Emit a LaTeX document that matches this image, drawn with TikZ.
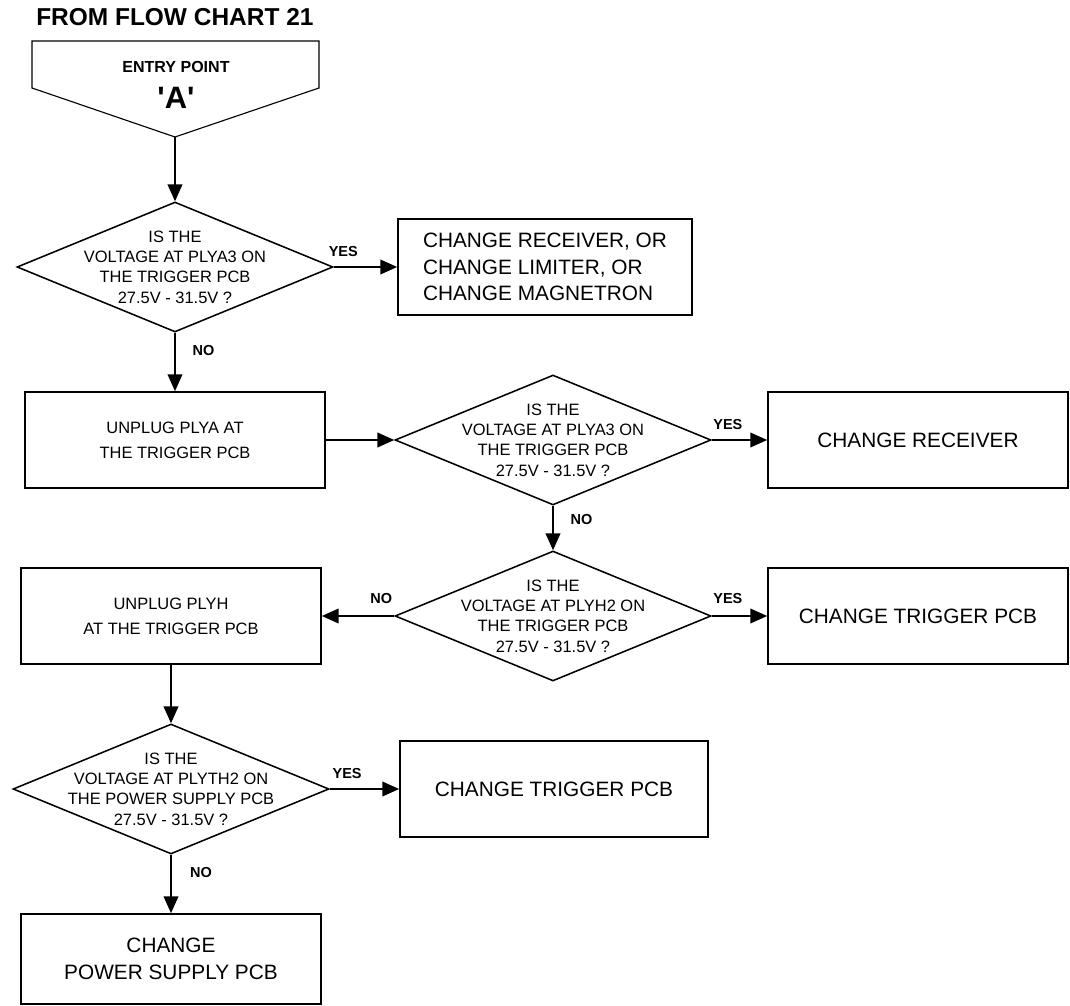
\documentclass[tikz,border=0pt]{standalone}
\usepackage{fontspec}
\setmainfont{Liberation Sans}
\usetikzlibrary{shapes.geometric, arrows.meta, positioning}

\begin{document}
\begin{tikzpicture}[
    box/.style={rectangle, draw, line width=1.2pt, minimum width=7.5cm, minimum height=2.4cm, align=center, font=\fontsize{14.8}{18.9}\selectfont},
    smallbox/.style={box, font=\fontsize{11.7}{17.8}\selectfont},
    decision/.style={diamond, draw, line width=1.1pt, inner sep=0pt, minimum width=7.9cm, minimum height=3.25cm},
    qtext/.style={align=center, font=\fontsize{11.7}{14.4}\selectfont},
    yn/.style={font=\bfseries\fontsize{10.3}{12}\selectfont, inner sep=0pt},
    arr/.style={-{Triangle[length=12pt, width=10.5pt]}, line width=1.1pt}
]
\useasboundingbox (0,0) rectangle (26.75,-25.15);

% Entry
\node[font=\bfseries\fontsize{17.4}{20}\selectfont, anchor=west, inner sep=0pt] (title) at (0.9,-0.425) {FROM FLOW CHART 21};
\draw[line width=0.8pt] (0.8,-1.025) -- (7.975,-1.025) -- (7.975,-2.2) -- (4.375,-3.425) -- (0.8,-2.2) -- cycle;
\coordinate (entry) at (4.375,-3.425);
\node[font=\bfseries\fontsize{11.4}{13}\selectfont] (entrytxt) at (4.4,-1.675) {ENTRY POINT};
\node[font=\bfseries\fontsize{22}{24}\selectfont] (entryA) at (4.4,-2.45) {\textquotesingle A\textquotesingle};

% Checks
\node[decision, label={[qtext]center:{IS THE\\VOLTAGE AT PLYA3 ON\\THE TRIGGER PCB\\27.5V - 31.5V ?}}] (q1) at (4.375,-6.675) {};
\node[box, align=left, minimum width=7.35cm] (b1) at (13.625,-6.675) {CHANGE RECEIVER, OR\\CHANGE LIMITER, OR\\CHANGE MAGNETRON};
\node[smallbox] (b2) at (4.375,-11.0) {UNPLUG PLYA AT\\THE TRIGGER PCB};
\node[decision, label={[qtext]center:{IS THE\\VOLTAGE AT PLYA3 ON\\THE TRIGGER PCB\\27.5V - 31.5V ?}}] (q2) at (13.825,-11.0) {};
\node[box] (b3) at (22.95,-11.0) {CHANGE RECEIVER};
\node[decision, label={[qtext]center:{IS THE\\VOLTAGE AT PLYH2 ON\\THE TRIGGER PCB\\27.5V - 31.5V ?}}] (q3) at (13.825,-15.4) {};
\node[smallbox] (b4) at (4.275,-15.4) {UNPLUG PLYH\\AT THE TRIGGER PCB};
\node[box] (b5) at (22.95,-15.4) {CHANGE TRIGGER PCB};
\node[decision, label={[qtext]center:{IS THE\\VOLTAGE AT PLYTH2 ON\\THE POWER SUPPLY PCB\\27.5V - 31.5V ?}}] (q4) at (4.275,-19.725) {};
\node[box, minimum width=7.7cm] (b6) at (13.85,-19.725) {CHANGE TRIGGER PCB};
\node[box, minimum height=2.25cm] (b7) at (4.275,-23.975) {CHANGE\\POWER SUPPLY PCB};

\draw[arr] (entry) -- (q1.north);
\draw[arr] (q1.east) -- node[yn, pos=0.15, above=6.5pt] (yes1) {YES} (b1.west);
\draw[arr] (q1.south) -- node[yn, pos=0.3, right=12pt] (no1) {NO} (b2.north);
\draw[arr] (b2.east) -- (q2.west);
\draw[arr] (q2.east) -- node[yn, pos=0.29, above=6.5pt] (yes2) {YES} (b3.west);
\draw[arr] (q2.south) -- node[yn, pos=0.32, right=12pt] (no2) {NO} (q3.north);
\draw[arr] (q3.west) -- node[yn, pos=0.18, above=8.5pt] (no3) {NO} (b4.east);
\draw[arr] (q3.east) -- node[yn, pos=0.29, above=8.5pt] (yes3) {YES} (b5.west);
\draw[arr] (b4.south) -- (q4.north);
\draw[arr] (q4.east) -- node[yn, pos=0.25, above=6.5pt] (yes4) {YES} (b6.west);
\draw[arr] (q4.south) -- node[yn, pos=0.3, right=13pt] (no4) {NO} (b7.north);
\end{tikzpicture}
\end{document}
